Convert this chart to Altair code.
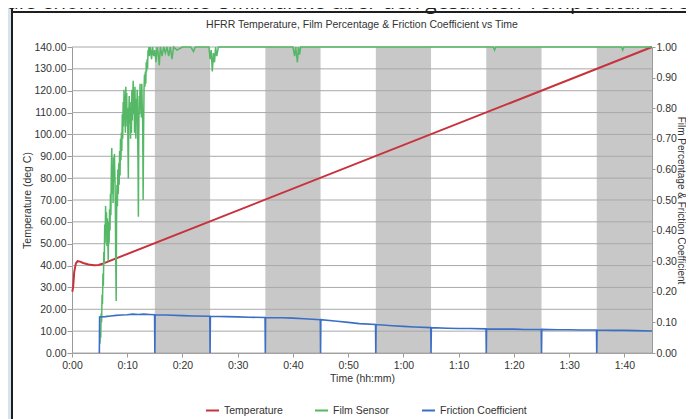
import altair as alt
import pandas as pd

# ---------------- data ----------------
series_names = ["Temperature", "Film Sensor", "Friction Coefficient"]
series_colors = ["#c8323c", "#55b866", "#3b6fc6"]

temp_t = [0.05, 0.2, 0.4, 0.7, 1.0, 1.5, 2.0, 3.0, 4.0, 4.8, 5.5, 6.5, 105.0]
temp_v = [28.0, 30.0, 37.0, 41.0, 42.0, 41.8, 41.2, 40.5, 40.2, 40.3, 40.8, 41.8, 140.0]

film_t = [5.05, 5.12, 5.2, 5.28, 5.36, 5.44, 5.52, 5.6, 5.68, 5.76, 5.84, 5.92, 6.0, 6.08,
          6.16, 6.24, 6.32, 6.4, 6.48, 6.56, 6.64, 6.72, 6.8, 6.88, 6.96, 7.04, 7.12, 7.2,
          7.28, 7.36, 7.44, 7.52, 7.6, 7.68, 7.76, 7.84, 7.92, 8.0, 8.06, 8.14, 8.22, 8.3,
          8.38, 8.46, 8.54, 8.62, 8.7, 8.78, 8.86, 8.94, 9.02, 9.1, 9.18, 9.26, 9.34, 9.42,
          9.5, 9.58, 9.66, 9.74, 9.82, 9.9, 9.98, 10.06, 10.14, 10.2, 10.28, 10.36, 10.44,
          10.52, 10.6, 10.68, 10.76, 10.84, 10.92, 11.0, 11.08, 11.16, 11.24, 11.32, 11.4,
          11.48, 11.56, 11.64, 11.72, 11.8, 11.88, 11.96, 12.02, 12.08, 12.16, 12.24, 12.32,
          12.4, 12.48, 12.56, 12.64, 12.72, 12.8, 12.88, 12.96, 13.04, 13.12, 13.2, 13.28,
          13.36, 13.44, 13.52, 13.6, 13.68, 13.76, 13.84, 13.92,
          14.0, 14.2, 14.4, 14.6, 14.8, 15.0, 15.2, 15.4, 15.6, 15.8, 16.0,
          16.3, 16.6, 16.9, 17.2, 17.5, 17.8, 18.1, 18.4, 19.0, 20.0, 21.5, 22.0, 22.3, 24.8,
          25.0, 25.2, 25.4, 25.6, 25.8, 26.0, 26.2, 26.5, 27.0, 40.0, 40.3, 40.5, 40.8, 41.0,
          41.2, 41.4, 76.3, 76.5, 76.7, 99.5, 99.7, 99.9, 105.0]
film_v = [0.03, 0.07, 0.05, 0.13, 0.10, 0.19, 0.16, 0.26, 0.22, 0.33, 0.29, 0.42, 0.36, 0.48,
          0.40, 0.46, 0.35, 0.44, 0.38, 0.30, 0.43, 0.36, 0.47, 0.40, 0.52, 0.45, 0.60, 0.67,
          0.52, 0.61, 0.49, 0.64, 0.56, 0.65, 0.58, 0.50, 0.30, 0.17, 0.42, 0.55, 0.48, 0.60,
          0.52, 0.62, 0.55, 0.66, 0.58, 0.70, 0.63, 0.72, 0.66, 0.78, 0.70, 0.82, 0.74, 0.86,
          0.78, 0.84, 0.72, 0.87, 0.80, 0.85, 0.74, 0.80, 0.66, 0.57, 0.78, 0.84, 0.75,
          0.82, 0.70, 0.80, 0.72, 0.86, 0.76, 0.84, 0.89, 0.78, 0.86, 0.72, 0.87,
          0.76, 0.70, 0.83, 0.77, 0.86, 0.74, 0.60, 0.445, 0.70, 0.84, 0.78, 0.88,
          0.80, 0.86, 0.77, 0.88, 0.80, 0.75, 0.50, 0.72, 0.86, 0.91, 0.87, 0.92,
          0.88, 0.95, 0.92, 0.96, 0.93, 0.99, 0.97, 1.0,
          0.97, 1.0, 0.96, 1.0, 0.97, 0.99, 0.95, 1.0, 0.98, 0.94, 1.0,
          0.97, 1.0, 0.98, 1.0, 0.97, 1.0, 0.96, 1.0, 0.99, 1.0, 1.0, 0.985, 1.0, 1.0,
          0.96, 0.99, 0.92, 0.98, 0.95, 1.0, 0.97, 1.0, 1.0, 1.0, 0.97, 1.0, 0.95, 1.0,
          0.975, 1.0, 1.0, 0.99, 1.0, 1.0, 0.99, 1.0, 1.0]

fric_t = [4.95, 5.0, 6.0, 7.0, 8.0, 9.0, 10.0, 11.0, 12.0, 13.0, 14.0, 14.95, 15.0, 15.05,
          17.0, 20.0, 22.0, 24.95, 25.0, 25.05, 28.0, 30.0, 32.0, 34.95, 35.0, 35.05,
          38.0, 40.0, 42.0, 44.95, 45.0, 45.05, 48.0, 50.0, 52.0, 54.95, 55.0, 55.05,
          58.0, 60.0, 62.0, 64.95, 65.0, 65.05, 68.0, 70.0, 72.0, 74.95, 75.0, 75.05,
          78.0, 80.0, 82.0, 84.95, 85.0, 85.05, 88.0, 90.0, 92.0, 94.95, 95.0, 95.05,
          98.0, 100.0, 102.0, 105.0]
fric_v = [0.0, 0.118, 0.119, 0.121, 0.123, 0.124, 0.125, 0.127, 0.126, 0.127, 0.126, 0.125, 0.0, 0.125,
          0.124, 0.122, 0.121, 0.120, 0.0, 0.120, 0.119, 0.118, 0.117, 0.116, 0.0, 0.116,
          0.115, 0.114, 0.112, 0.109, 0.0, 0.109, 0.104, 0.100, 0.096, 0.093, 0.0, 0.093,
          0.089, 0.087, 0.085, 0.083, 0.0, 0.083, 0.081, 0.080, 0.080, 0.079, 0.0, 0.079,
          0.078, 0.078, 0.077, 0.077, 0.0, 0.077, 0.076, 0.076, 0.075, 0.075, 0.0, 0.075,
          0.074, 0.074, 0.073, 0.072]

band_start = [15, 35, 55, 75, 95]
band_end = [25, 45, 65, 85, 105]

left_ticks = [0, 10, 20, 30, 40, 50, 60, 70, 80, 90, 100, 110, 120, 130, 140]
right_ticks = [0.0, 0.1, 0.2, 0.3, 0.4, 0.5, 0.6, 0.7, 0.8, 0.9, 1.0]
x_ticks = [0, 10, 20, 30, 40, 50, 60, 70, 80, 90, 100]

title_text = "HFRR Temperature, Film Percentage & Friction Coefficient vs Time"
page_text = "die enorm konstante Ölfilmdicke über den gesamten Temperaturbereich hinweg"

# ---------------- frames ----------------
temp_df = pd.DataFrame({"t": temp_t, "v": temp_v, "series": "Temperature"})
film_df = pd.DataFrame({"t": film_t, "v": film_v, "series": "Film Sensor"})
fric_df = pd.DataFrame({"t": fric_t, "v": fric_v, "series": "Friction Coefficient"})
band_df = pd.DataFrame({"s": band_start, "e": band_end})
grid_df = pd.DataFrame({"g": left_ticks})
one_df = pd.DataFrame({"a": [0]})

W, H = 580, 306
FONT = "Liberation Sans"
TXT = "#333333"
AX = "#9a9a9a"

x_scale = alt.Scale(domain=[0, 105], nice=False, zero=False)
x_axis = alt.Axis(values=x_ticks, grid=False, title="Time (hh:mm)", labelFlush=False,
                  labelExpr="floor(datum.value/60) + ':' + (datum.value % 60 < 10 ? '0' : '') + (datum.value % 60)",
                  tickSize=4, tickColor=AX, domainColor=AX, labelPadding=3,
                  labelFontSize=10.5, labelColor=TXT, titleFontSize=10.5,
                  titleFontWeight="normal", titleColor=TXT, titlePadding=3)

yl_scale = alt.Scale(domain=[0, 140], nice=False)
yl_axis = alt.Axis(values=left_ticks, format=".2f", grid=False, title="Temperature (deg C)",
                   tickSize=5, tickColor=AX, domainColor=AX, labelPadding=1,
                   labelFontSize=10.5, labelColor=TXT, titleFontSize=10.5,
                   titleFontWeight="normal", titleColor=TXT, titlePadding=1)

yr_scale = alt.Scale(domain=[0, 1], nice=False)
yr_axis = alt.Axis(values=right_ticks, format=".2f", grid=False, orient="right",
                   title="Film Percentage & Friction Coefficient",
                   tickSize=3, tickColor=AX, domainColor=AX, labelPadding=1,
                   labelFontSize=10.5, labelColor=TXT, titleFontSize=10,
                   titleFontWeight="normal", titleColor=TXT,
                   titleX=28.5, titleY=H / 2, titleAngle=90, titleAlign="center",
                   titleBaseline="middle")

color_enc = alt.Color("series:N", scale=alt.Scale(domain=series_names, range=series_colors),
                      legend=alt.Legend(orient="none", legendX=133, legendY=356,
                                        direction="horizontal", title=None,
                                        symbolType="stroke", symbolStrokeWidth=2,
                                        symbolSize=169, labelFontSize=10.5,
                                        labelColor=TXT, columnPadding=28, labelOffset=4))

# decorations of the scanned page
strip = alt.Chart(one_df).mark_rect(color="#d5e4ed").encode(
    x=alt.value(-72), x2=alt.value(-61), y=alt.value(-47), y2=alt.value(372))
vline = alt.Chart(one_df).mark_rule(color="#1e1e1e", strokeWidth=2).encode(
    x=alt.value(-60), y=alt.value(-47), y2=alt.value(372))
hline = alt.Chart(one_df).mark_rule(color="#1e1e1e", strokeWidth=2).encode(
    x=alt.value(-61), x2=alt.value(630), y=alt.value(-35))
ptext = alt.Chart(one_df).mark_text(align="left", baseline="alphabetic", fontSize=21,
                                    font="Open Sans", color="#1e1e1e").encode(
    x=alt.value(-66), y=alt.value(-38), text=alt.value(page_text))
ctitle = alt.Chart(one_df).mark_text(align="center", baseline="middle", fontSize=10.5,
                                     font=FONT, color=TXT).encode(
    x=alt.value(W / 2), y=alt.value(-22), text=alt.value(title_text))

bands = alt.Chart(band_df).mark_rect(color="#c8c8c8").encode(
    x=alt.X("s:Q", scale=x_scale, axis=x_axis), x2="e:Q",
    y=alt.value(0), y2=alt.value(H))

grid = alt.Chart(grid_df).mark_rule(color="#a9a9a9", strokeWidth=1).encode(
    y=alt.Y("g:Q", scale=yl_scale, axis=yl_axis), x=alt.value(0), x2=alt.value(W))

temp = alt.Chart(temp_df).mark_line(strokeWidth=2).encode(
    x=alt.X("t:Q", scale=x_scale, axis=x_axis),
    y=alt.Y("v:Q", scale=yl_scale, axis=yl_axis),
    color=color_enc)

film = alt.Chart(film_df).mark_line(strokeWidth=1.5).encode(
    x=alt.X("t:Q", scale=x_scale, axis=x_axis),
    y=alt.Y("v:Q", scale=yr_scale, axis=yr_axis),
    color=color_enc)

fric = alt.Chart(fric_df).mark_line(strokeWidth=1.6).encode(
    x=alt.X("t:Q", scale=x_scale, axis=x_axis),
    y=alt.Y("v:Q", scale=yr_scale, axis=yr_axis),
    color=color_enc)

left = alt.layer(strip, vline, hline, ptext, ctitle, bands, grid, temp)
right = alt.layer(film, fric)

chart = alt.layer(left, right).resolve_scale(y="independent").properties(
    width=W, height=H,
    autosize=alt.AutoSizeParams(type="none"),
    padding={"left": 64, "top": 39, "right": 34, "bottom": 66},
    background="white",
).configure(font=FONT).configure_view(stroke=None)

chart.save("out.html", embed_options={"renderer": "svg", "actions": False})
